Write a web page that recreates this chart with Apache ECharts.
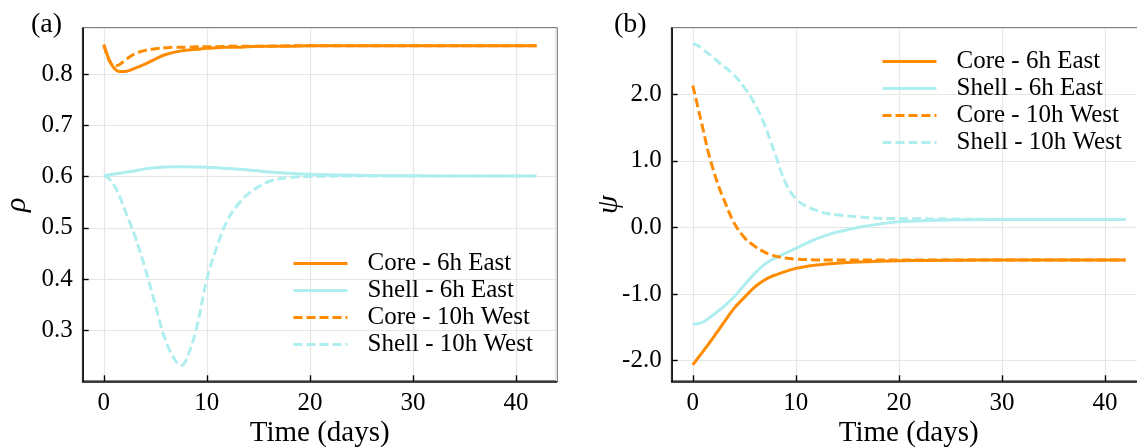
<!DOCTYPE html>
<html>
<head>
<meta charset="utf-8">
<script src="https://cdn.jsdelivr.net/npm/echarts@6/dist/echarts.min.js"></script>
<style>
  html, body { margin: 0; padding: 0; background: #fff; }
  #chart { width: 1137px; height: 448px; }
</style>
</head>
<body>
<div id="chart"></div>
<script>
// Sample times (days)
const days = [0, 0.5, 1, 1.5, 2, 2.5, 3, 4, 5, 6, 7, 7.5, 8, 9, 10, 11, 12, 13, 14, 16, 18, 20, 23, 26, 30, 35, 42];

// rho (panel a)
const rhoCoreEast  = [0.857, 0.829, 0.811, 0.805, 0.805, 0.807, 0.811, 0.819, 0.829, 0.838, 0.843, 0.845, 0.846, 0.848, 0.850, 0.851, 0.852, 0.852, 0.853, 0.854, 0.854, 0.855, 0.855, 0.855, 0.855, 0.855, 0.855];
const rhoShellEast = [0.602, 0.603, 0.605, 0.6065, 0.608, 0.6095, 0.611, 0.615, 0.617, 0.6185, 0.619, 0.619, 0.619, 0.6188, 0.618, 0.617, 0.6158, 0.6145, 0.613, 0.609, 0.6065, 0.6045, 0.603, 0.602, 0.6015, 0.601, 0.601];
const rhoCoreWest  = [0.857, 0.827, 0.816, 0.818, 0.826, 0.833, 0.839, 0.846, 0.849, 0.851, 0.852, 0.852, 0.852, 0.853, 0.853, 0.853, 0.854, 0.854, 0.854, 0.854, 0.855, 0.855, 0.855, 0.855, 0.855, 0.855, 0.855];
const rhoShellWest = [0.602, 0.596, 0.583, 0.563, 0.537, 0.512, 0.485, 0.422, 0.350, 0.280, 0.240, 0.232, 0.243, 0.305, 0.400, 0.465, 0.515, 0.545, 0.566, 0.590, 0.598, 0.600, 0.601, 0.601, 0.601, 0.601, 0.601];

// psi (panel b)
const psiCoreEast  = [-2.065, -1.96, -1.86, -1.755, -1.65, -1.54, -1.43, -1.215, -1.05, -0.895, -0.785, -0.745, -0.715, -0.66, -0.615, -0.585, -0.565, -0.55, -0.537, -0.52, -0.508, -0.50, -0.495, -0.492, -0.49, -0.49, -0.49];
const psiShellEast = [-1.45, -1.445, -1.42, -1.37, -1.31, -1.25, -1.19, -1.04, -0.865, -0.69, -0.55, -0.50, -0.46, -0.385, -0.315, -0.24, -0.17, -0.115, -0.07, 0.0, 0.05, 0.085, 0.105, 0.115, 0.12, 0.12, 0.12];
const psiCoreWest  = [2.13, 1.80, 1.47, 1.13, 0.86, 0.62, 0.425, 0.07, -0.15, -0.28, -0.375, -0.405, -0.43, -0.46, -0.475, -0.483, -0.487, -0.489, -0.49, -0.49, -0.49, -0.49, -0.49, -0.49, -0.49, -0.49, -0.49];
const psiShellWest = [2.76, 2.73, 2.67, 2.61, 2.55, 2.48, 2.42, 2.29, 2.10, 1.86, 1.53, 1.31, 1.095, 0.67, 0.43, 0.32, 0.255, 0.21, 0.19, 0.16, 0.137, 0.133, 0.128, 0.124, 0.12, 0.12, 0.12];

const seriesNames = ['Core - 6h East', 'Shell - 6h East', 'Core - 10h West', 'Shell - 10h West'];

const CORE = '#FF8C00';
const SHELL = '#AFEEEE';
const FONT = '"Liberation Serif", "Times New Roman", serif';

function pairs(xs, ys) { return xs.map((x, i) => [x, ys[i]]); }

function lineSeries(name, values, color, dashed, idx) {
  return {
    type: 'line', name: name,
    xAxisIndex: idx, yAxisIndex: idx,
    data: pairs(days, values),
    showSymbol: false, symbol: 'none',
    smooth: 0.4,
    lineStyle: { color: color, width: 3, type: dashed ? [9, 4] : 'solid', cap: 'butt' },
    itemStyle: { color: color },
    animation: false
  };
}

function xAxisDef(idx) {
  return {
    type: 'value', gridIndex: idx, min: -2.05, max: 43.95,
    name: 'Time (days)', nameLocation: 'middle', nameGap: 38, nameMoveOverlap: false,
    nameTextStyle: { fontFamily: FONT, fontSize: 29, color: '#000' },
    axisLine: { show: true, onZero: false, lineStyle: { color: '#000', width: 1.6 } },
    axisTick: { show: true, inside: true, length: 6, lineStyle: { color: '#000', width: 1.4 } },
    axisLabel: { showMinLabel: false, showMaxLabel: false, margin: 10,
      fontFamily: FONT, fontSize: 25, color: '#000' },
    splitLine: { show: true, lineStyle: { color: '#e6e6e6', width: 1.2 } }
  };
}

function yAxisDef(idx, min, max, label, gap) {
  return {
    type: 'value', gridIndex: idx, min: min, max: max,
    name: label, nameLocation: 'middle', nameGap: gap, nameRotate: 90, nameMoveOverlap: false,
    nameTextStyle: { fontFamily: FONT, fontSize: 30, fontStyle: 'italic', color: '#000' },
    axisLine: { show: true, onZero: false, lineStyle: { color: '#000', width: 1.6 } },
    axisTick: { show: true, inside: true, length: 6, lineStyle: { color: '#000', width: 1.4 } },
    axisLabel: { showMinLabel: false, showMaxLabel: false, margin: 10,
      fontFamily: FONT, fontSize: 25, color: '#000',
      formatter: v => v.toFixed(1) },
    splitLine: { show: true, lineStyle: { color: '#e6e6e6', width: 1.2 } }
  };
}

function legendDef(left, top) {
  return {
    orient: 'vertical', left: left, top: top, padding: 0,
    itemWidth: 54, itemHeight: 14, itemGap: 0,
    selectedMode: false,
    itemStyle: { opacity: 0, borderWidth: 0 },
    lineStyle: { width: 3 },
    data: seriesNames,
    textStyle: { fontFamily: FONT, fontSize: 25, color: '#000', lineHeight: 27,
      padding: [0, 0, 0, 15] }
  };
}

const chart = echarts.init(document.getElementById('chart'), null, { renderer: 'canvas' });
chart.setOption({
  animation: false,
  backgroundColor: '#fff',
  grid: [
    { left: 82.7, top: 28.3, width: 474, height: 353, show: true, outerBoundsMode: 'none',
      borderColor: '#000', borderWidth: 1.6, backgroundColor: 'transparent', containLabel: false },
    { left: 671.7, top: 28.3, width: 474, height: 353, show: true, outerBoundsMode: 'none',
      borderColor: '#000', borderWidth: 1.6, backgroundColor: 'transparent', containLabel: false }
  ],
  xAxis: [xAxisDef(0), xAxisDef(1)],
  yAxis: [yAxisDef(0, 0.201, 0.889, 'ρ', 51), yAxisDef(1, -2.31, 2.99, 'ψ', 48)],
  legend: [legendDef(292, 250), legendDef(881, 48)],
  graphic: [
    { type: 'text', left: 31, top: 11, style: { text: '(a)', font: '28px "Liberation Serif"', fill: '#000' } },
    { type: 'text', left: 614, top: 11, style: { text: '(b)', font: '28px "Liberation Serif"', fill: '#000' } }
  ],
  series: [
    lineSeries(seriesNames[0], rhoCoreEast, CORE, false, 0),
    lineSeries(seriesNames[1], rhoShellEast, SHELL, false, 0),
    lineSeries(seriesNames[2], rhoCoreWest, CORE, true, 0),
    lineSeries(seriesNames[3], rhoShellWest, SHELL, true, 0),
    lineSeries(seriesNames[0], psiCoreEast, CORE, false, 1),
    lineSeries(seriesNames[1], psiShellEast, SHELL, false, 1),
    lineSeries(seriesNames[2], psiCoreWest, CORE, true, 1),
    lineSeries(seriesNames[3], psiShellWest, SHELL, true, 1)
  ]
});
</script>
</body>
</html>
